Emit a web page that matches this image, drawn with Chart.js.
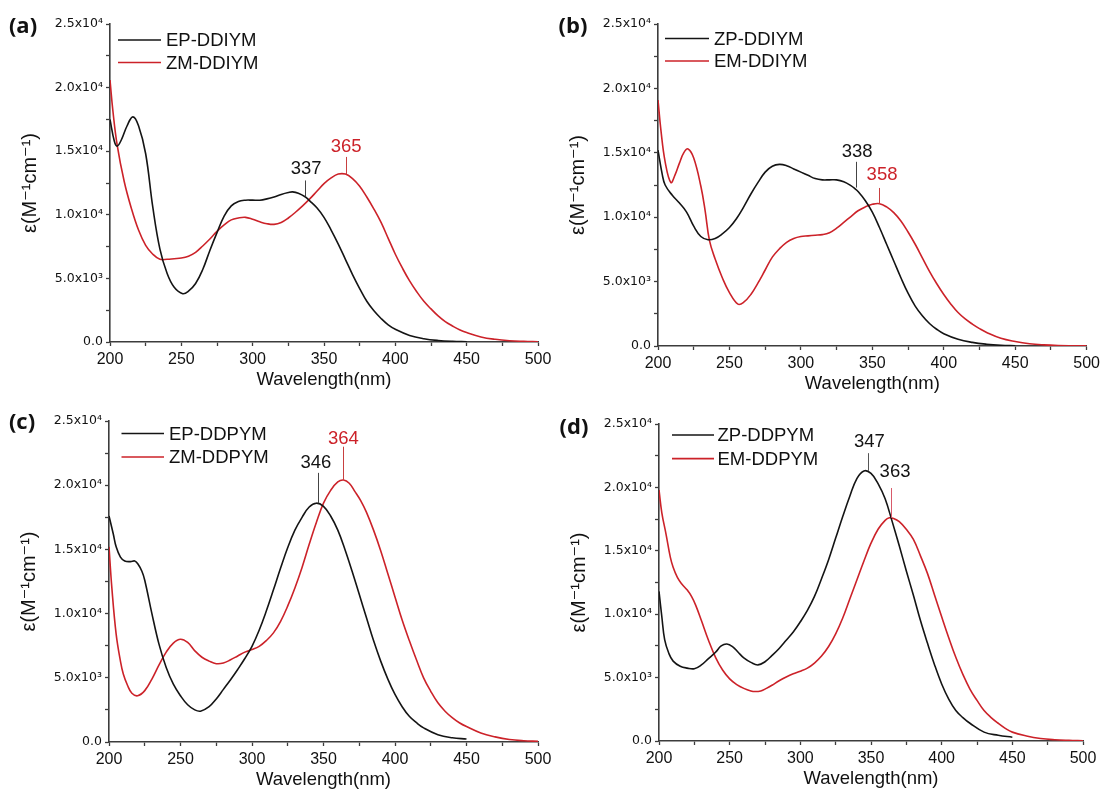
<!DOCTYPE html>
<html>
<head>
<meta charset="utf-8">
<script src="https://cdn.jsdelivr.net/npm/chart.js@4.4.1/dist/chart.umd.min.js"></script>
<style>
  html,body{margin:0;padding:0;background:#fff;}
  #wrap{position:relative;width:1104px;height:796px;overflow:hidden;background:#fff;}
  #wrap canvas{position:absolute;left:0;top:0;}
</style>
</head>
<body>
<div id="wrap">
  <canvas id="ca" width="1104" height="796"></canvas>
  <canvas id="cb" width="1104" height="796"></canvas>
  <canvas id="cc" width="1104" height="796"></canvas>
  <canvas id="cd" width="1104" height="796"></canvas>
</div>
<script>
// ---------------- DATA ----------------
const xTickValues = [200, 250, 300, 350, 400, 450, 500];
const yTickValues = [0, 5000, 10000, 15000, 20000, 25000];
const yTickLabels = ['0.0', '5.0x10³', '1.0x10⁴', '1.5x10⁴', '2.0x10⁴', '2.5x10⁴'];
const xTitle = 'Wavelength(nm)';
const yTitle = 'ε(M⁻¹cm⁻¹)';
const panelLabels = ['(a)', '(b)', '(c)', '(d)'];

// (a)
const nameA1 = 'EP-DDIYM';
const wlA1 = [200,203,205,208,212,216,220,225,230,235,240,245,251,255,260,265,270,275,280,285,290,295,300,305,310,315,320,325,328,332,337,340,345,350,355,360,365,370,375,380,385,390,395,400,410,420,430,440,450];
const epsA1 = [17500,15800,15400,15900,17000,17700,17000,14800,10600,7300,5400,4300,3800,4000,4600,5700,7200,8600,9900,10700,11050,11150,11150,11150,11250,11400,11600,11750,11800,11700,11400,11100,10550,9800,8800,7700,6500,5300,4200,3200,2450,1850,1350,1000,520,260,120,50,20];
const nameA2 = 'ZM-DDIYM';
const wlA2 = [200,202,205,210,215,220,225,230,235,240,245,250,255,260,265,270,275,280,285,290,295,300,305,310,315,320,325,330,335,340,345,350,355,360,365,370,375,380,385,390,395,400,405,410,415,420,425,430,435,440,445,450,460,470,480,490,500];
const epsA2 = [20600,18200,15500,12600,10500,8800,7600,6900,6500,6500,6550,6600,6750,7050,7550,8100,8700,9200,9600,9750,9800,9650,9450,9300,9250,9400,9750,10200,10700,11250,11850,12450,12900,13200,13200,12850,12250,11400,10450,9400,8150,6900,5800,4800,3950,3200,2600,2050,1600,1260,960,740,400,210,100,50,20];
const peaksA = ['337', '365'];

// (b)
const nameB1 = 'ZP-DDIYM';
const wlB1 = [200,203,205,210,215,220,225,230,235,240,245,250,255,260,265,270,275,280,285,290,295,300,305,310,315,320,325,330,335,338,340,345,350,355,360,365,370,375,380,385,390,395,400,410,420,430,440,450];
const epsB1 = [15200,13300,12500,11700,11100,10400,9300,8500,8250,8350,8700,9200,9900,10800,11800,12700,13500,13950,14100,14000,13750,13500,13250,13000,12900,12900,12900,12750,12450,12200,12000,11300,10400,9200,7900,6600,5300,4100,3100,2350,1750,1300,950,520,280,140,60,25];
const nameB2 = 'EM-DDIYM';
const wlB2 = [200,202,205,209,212,215,218,221,225,230,233,236,240,245,250,256,260,265,270,275,280,285,290,295,300,305,310,315,320,325,330,335,340,345,350,355,360,365,370,375,380,385,390,395,400,405,410,415,420,425,430,440,450,460,470,480,490,500];
const epsB2 = [19100,16800,14300,12700,13300,14200,15000,15300,14600,12400,10500,8200,6750,5300,4150,3250,3400,4000,4900,5900,6900,7550,8050,8350,8500,8550,8600,8650,8800,9150,9600,10050,10500,10800,11000,11050,10800,10350,9700,8850,7900,6850,5800,4850,4000,3250,2600,2100,1700,1350,1050,600,350,180,90,40,20,10];
const peaksB = ['338', '358'];

// (c)
const nameC1 = 'EP-DDPYM';
const wlC1 = [200,203,205,208,211,215,218,220,223,225,230,235,240,245,250,255,260,264,270,275,280,285,290,295,300,305,310,315,320,325,330,335,340,345,350,355,360,365,370,375,380,385,390,395,400,405,410,415,420,430,440,450];
const epsC1 = [17600,16200,15200,14400,14100,14050,14100,13900,13300,12600,10000,7600,5800,4500,3600,2900,2500,2400,2750,3350,4100,4850,5650,6500,7450,8700,10200,11850,13550,15150,16500,17500,18300,18600,18350,17600,16500,15000,13300,11500,9700,7900,6300,4900,3700,2750,2000,1500,1100,570,330,230];
const nameC2 = 'ZM-DDPYM';
const wlC2 = [200,202,205,208,210,213,216,220,225,230,235,240,245,250,255,260,265,270,275,280,285,290,295,300,305,310,315,320,325,330,335,340,345,350,355,360,364,368,372,376,380,385,390,395,400,405,410,415,420,425,430,435,440,445,450,460,470,480,490,500];
const epsC2 = [15200,12000,8400,6300,5300,4400,3800,3600,4000,4900,6000,7000,7700,8000,7750,7100,6600,6300,6100,6150,6400,6700,7000,7200,7450,7900,8500,9400,10600,12000,13600,15400,17100,18600,19600,20250,20400,20150,19500,18800,17900,16500,14900,13100,11300,9500,7900,6400,5000,3950,3050,2400,1900,1500,1200,700,400,200,100,50];
const peaksC = ['346', '364'];

// (d)
const nameD1 = 'ZP-DDPYM';
const wlD1 = [200,202,204,207,210,215,220,225,230,235,240,244,248,252,256,260,265,270,275,280,285,290,295,300,305,310,315,320,325,330,335,340,345,350,355,360,365,370,375,380,385,390,395,400,405,410,415,420,430,440,450];
const epsD1 = [11800,9800,8000,6900,6300,5900,5750,5700,6000,6500,7000,7500,7650,7450,7000,6550,6200,6000,6250,6750,7300,7950,8600,9400,10300,11400,12800,14300,16000,17700,19300,20700,21300,21100,20300,19100,17300,15400,13400,11500,9500,7700,6000,4500,3300,2400,1850,1400,700,450,300];
const nameD2 = 'EM-DDPYM';
const wlD2 = [200,202,205,208,210,213,216,220,223,226,230,235,240,245,250,255,260,265,268,272,276,280,285,290,295,300,305,310,315,320,325,330,335,340,345,350,355,360,363,366,370,375,380,385,390,395,400,405,410,415,420,425,430,435,440,445,450,460,470,480,490,500];
const epsD2 = [19800,18000,16300,14500,13700,12900,12400,11900,11400,10700,9500,7950,6600,5600,4900,4450,4150,3950,3900,3950,4150,4400,4750,5050,5300,5500,5750,6150,6700,7450,8450,9700,11200,12700,14200,15600,16700,17400,17600,17550,17300,16700,15900,14600,13200,11500,9800,8150,6600,5250,4100,3200,2400,1850,1400,1000,700,400,200,100,50,20];
const peaksD = ['347', '363'];

// ---------------- STYLE / LAYOUT ----------------
const BLACK = '#141414';
const RED = '#cc2229';
const AXIS = '#3c3c3c';
const SANS = '"Liberation Sans", Arial, "DejaVu Sans", sans-serif';

const panels = [
  { id:'ca', L:110, R:538, T:24, B:342, label:panelLabels[0], labelX:23, labelY:27,
    s1:[nameA1, wlA1, epsA1], s2:[nameA2, wlA2, epsA2],
    leg:{x0:8, x1:51, tx:56, r1:16, r2:38.5},
    ann:[
      {text:peaksA[0], tx:337.5, ty:13600, lx:337, l0:12700, l1:11450, tc:BLACK, lc:'#444'},
      {text:peaksA[1], tx:365.5, ty:15300, lx:365.5, l0:14550, l1:13200, tc:RED, lc:'#c84040'}
    ]},
  { id:'cb', L:658, R:1088, T:24, B:346, label:panelLabels[1], labelX:573, labelY:27,
    s1:[nameB1, wlB1, epsB1], s2:[nameB2, wlB2, epsB2],
    leg:{x0:7, x1:51, tx:56, r1:14.5, r2:37},
    ann:[
      {text:peaksB[0], tx:339.4, ty:15100, lx:338.6, l0:14300, l1:12300, tc:BLACK, lc:'#444'},
      {text:peaksB[1], tx:356.8, ty:13280, lx:354.9, l0:12270, l1:11050, tc:RED, lc:'#c84040'}
    ]},
  { id:'cc', L:109, R:538, T:421, B:742, label:panelLabels[2], labelX:22, labelY:423,
    s1:[nameC1, wlC1, epsC1], s2:[nameC2, wlC2, epsC2],
    leg:{x0:12.5, x1:55, tx:60, r1:12.5, r2:36},
    ann:[
      {text:peaksC[0], tx:344.7, ty:21700, lx:346, l0:20960, l1:18600, tc:BLACK, lc:'#444'},
      {text:peaksC[1], tx:363.9, ty:23600, lx:363.6, l0:23000, l1:20400, tc:RED, lc:'#c84040'}
    ]},
  { id:'cd', L:659, R:1083, T:424, B:741, label:panelLabels[3], labelX:574, labelY:428,
    s1:[nameD1, wlD1, epsD1], s2:[nameD2, wlD2, epsD2],
    leg:{x0:13, x1:55, tx:58.5, r1:11, r2:34.6},
    ann:[
      {text:peaksD[0], tx:348.9, ty:23600, lx:348, l0:22700, l1:21300, tc:BLACK, lc:'#555'},
      {text:peaksD[1], tx:367, ty:21200, lx:363.9, l0:19950, l1:17600, tc:BLACK, lc:'#d85a6a'}
    ]}
];

// ---------------- PLUGINS ----------------
const annotPlugin = {
  id:'peakAnnot',
  afterDatasetsDraw(chart, args, opts) {
    const {ctx} = chart; const xs = chart.scales.x, ys = chart.scales.y;
    ctx.save();
    (opts.items || []).forEach(it => {
      const px = Math.round(xs.getPixelForValue(it.lx)) + 0.5;
      ctx.strokeStyle = it.lc; ctx.lineWidth = 1;
      ctx.beginPath();
      ctx.moveTo(px, ys.getPixelForValue(it.l0));
      ctx.lineTo(px, ys.getPixelForValue(it.l1));
      ctx.stroke();
      ctx.fillStyle = it.tc;
      ctx.font = '18.5px ' + SANS;
      ctx.textAlign = 'center'; ctx.textBaseline = 'middle';
      ctx.fillText(it.text, xs.getPixelForValue(it.tx), ys.getPixelForValue(it.ty));
    });
    ctx.restore();
  }
};

const legendPlugin = {
  id:'innerLegend',
  afterDatasetsDraw(chart, args, opts) {
    const {ctx, chartArea} = chart; const lg = opts.geo; if (!lg) return;
    ctx.save();
    chart.data.datasets.forEach((ds, i) => {
      const yy = chartArea.top + (i === 0 ? lg.r1 : lg.r2);
      ctx.strokeStyle = ds.borderColor; ctx.lineWidth = 1.6;
      ctx.beginPath();
      ctx.moveTo(chartArea.left + lg.x0, yy);
      ctx.lineTo(chartArea.left + lg.x1, yy);
      ctx.stroke();
      ctx.fillStyle = '#111';
      ctx.font = '18.5px ' + SANS;
      ctx.textAlign = 'left'; ctx.textBaseline = 'middle';
      ctx.fillText(ds.label, chartArea.left + lg.tx, yy + 1);
    });
    ctx.restore();
  }
};

const panelLabelPlugin = {
  id:'panelLabel',
  afterDraw(chart, args, opts) {
    const {ctx} = chart;
    ctx.save();
    ctx.fillStyle = '#111';
    ctx.font = 'bold 22px "Open Sans", "Liberation Sans", Arial, sans-serif';
    ctx.textAlign = 'center'; ctx.textBaseline = 'middle';
    ctx.fillText(opts.text, opts.x, opts.y);
    ctx.restore();
  }
};

// ---------------- CHARTS ----------------
const Y_W = 96, X_H = 53;
panels.forEach(p => {
  const mk = (s, color) => ({
    label: s[0],
    data: s[1].map((w, i) => ({x: w, y: s[2][i]})),
    borderColor: color, borderWidth: 1.6, pointRadius: 0,
    tension: 0.4, fill: false
  });
  new Chart(document.getElementById(p.id), {
    type: 'line',
    data: { datasets: [mk(p.s1, BLACK), mk(p.s2, RED)] },
    options: {
      responsive: false, animation: false, devicePixelRatio: 1,
      events: [],
      layout: { padding: { left: p.L - Y_W, top: p.T, right: 1104 - p.R, bottom: 796 - p.B - X_H } },
      plugins: {
        legend: { display: false }, tooltip: { enabled: false },
        peakAnnot: { items: p.ann },
        innerLegend: { geo: p.leg },
        panelLabel: { text: p.label, x: p.labelX, y: p.labelY }
      },
      scales: {
        x: {
          type: 'linear', min: 200, max: 500,
          afterFit: s => { s.height = X_H; },
          border: { display: true, color: AXIS, width: 1.6 },
          grid: { drawOnChartArea: false, tickLength: 4, color: AXIS, tickColor: AXIS, tickWidth: 1.3 },
          ticks: {
            stepSize: 25, autoSkip: false, maxRotation: 0, padding: 4, color: '#111',
            font: { family: SANS, size: 16 },
            callback: v => (xTickValues.includes(v) ? String(v) : '')
          },
          title: { display: true, text: xTitle, color: '#111', font: { family: SANS, size: 18.5 }, padding: { top: 0, bottom: 4 } }
        },
        y: {
          type: 'linear', min: 0, max: 25000,
          afterFit: s => { s.width = Y_W; },
          border: { display: true, color: AXIS, width: 1.6 },
          grid: { drawOnChartArea: false, tickLength: 4, color: AXIS, tickColor: AXIS, tickWidth: 1.3 },
          ticks: {
            stepSize: 2500, autoSkip: false, padding: 3, color: '#111',
            font: { family: '"DejaVu Sans", "Liberation Sans", sans-serif', size: 12.5 },
            callback: v => { const k = yTickValues.indexOf(v); return k >= 0 ? yTickLabels[k] : ''; }
          },
          title: { display: true, text: yTitle, color: '#111', font: { family: SANS, size: 20 }, padding: { top: 4, bottom: 0 } }
        }
      }
    },
    plugins: [annotPlugin, legendPlugin, panelLabelPlugin]
  });
});
</script>
</body>
</html>
